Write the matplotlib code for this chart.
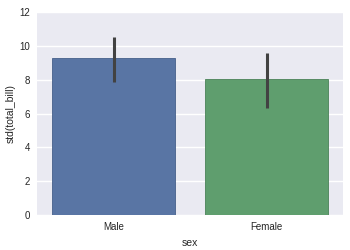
import matplotlib
matplotlib.use("Agg")
import matplotlib.pyplot as plt
import numpy as np

# data
sexes = ["Male", "Female"]
std_bill = [9.28, 8.02]
ci_low = [7.85, 6.35]
ci_high = [10.5, 9.55]
colors = ["#5975A4", "#5F9E6E"]
edges = ["#46608a", "#4a8258"]

plt.rcParams["font.family"] = ["Liberation Sans", "DejaVu Sans"]

fig = plt.figure(figsize=(3.5, 2.5), dpi=100)
ax = fig.add_axes([0.106, 0.14, 0.874, 0.812])
ax.set_facecolor("#EAEAF2")
for s in ax.spines.values():
    s.set_visible(False)

x = np.arange(len(sexes))
ax.bar(x, std_bill, width=0.8, color=colors, edgecolor=edges, linewidth=0.6, zorder=2)
for i in range(len(sexes)):
    ax.plot([x[i], x[i]], [ci_low[i], ci_high[i]], color="#424242", lw=2.2,
            solid_capstyle="butt", zorder=3)

ax.set_xlim(-0.5, 1.5)
ax.set_ylim(0, 12)
ax.set_yticks(range(0, 13, 2))
ax.set_xticks(x)
ax.set_xticklabels(sexes)
ax.yaxis.grid(True, color="white", lw=1.0, zorder=0)
ax.set_axisbelow(True)
ax.tick_params(length=0, labelsize=7, colors="#262626", pad=5)
ax.set_xlabel("sex", fontsize=7.5, color="#262626", labelpad=4)
ax.set_ylabel("std(total_bill)", fontsize=7.5, color="#262626", labelpad=3)

fig.savefig("out.png", dpi=100)
